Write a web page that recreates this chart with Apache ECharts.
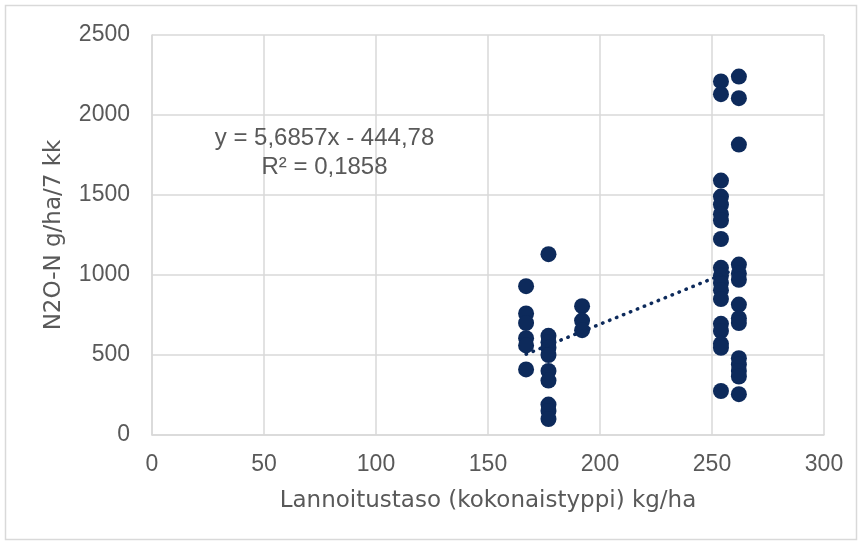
<!DOCTYPE html>
<html><head><meta charset="utf-8">
<script src="https://cdn.jsdelivr.net/npm/echarts@6/dist/echarts.min.js"></script>
<style>html,body{margin:0;padding:0;background:#fff}#c{width:862px;height:544px}</style>
</head><body><div id="c"></div>
<script>
// Data
const xLevels = [167, 177, 192, 254, 262];
const yAt167 = [930, 760, 700, 605, 560, 410];
const yAt177 = [1130, 620, 580, 545, 500, 400, 340, 190, 150, 100];
const yAt192 = [805, 715, 655];
const yAt254 = [2210, 2130, 1590, 1490, 1440, 1380, 1340, 1225, 1045, 995, 950, 905, 850, 695, 650, 570, 545, 275];
const yAt262 = [2240, 2105, 1815, 1065, 1010, 970, 815, 730, 700, 480, 440, 400, 365, 255];
const trendX = [167, 262];
const trendY = [505, 1045];
const xTicks = [0, 50, 100, 150, 200, 250, 300];
const yTicks = [0, 500, 1000, 1500, 2000, 2500];
const eqText = 'y = 5,6857x - 444,78';
const r2Text = 'R² = 0,1858';
const xName = 'Lannoitustaso (kokonaistyppi) kg/ha';
const yName = 'N2O-N g/ha/7 kk';

const groups = [yAt167, yAt177, yAt192, yAt254, yAt262];
const points = [];
groups.forEach((g, i) => g.forEach(v => points.push([xLevels[i], v])));

const FONT = '"Liberation Sans", Arial, sans-serif';
const WFONT = '"DejaVu Sans", sans-serif';
const GRAY = '#595959';
const NAVY = '#0d2a5b';
const chart = echarts.init(document.getElementById('c'));
chart.setOption({
  backgroundColor: '#fff',
  animation: false,
  grid: {left: 152, right: 38, top: 35, bottom: 109, containLabel: false},
  xAxis: {
    type: 'value', min: xTicks[0], max: xTicks[xTicks.length-1], interval: 50,
    name: xName, nameLocation: 'middle', nameGap: 55, nameMoveOverlap: false,
    nameTextStyle: {color: GRAY, fontSize: 23, fontFamily: WFONT},
    axisLine: {show: true, lineStyle: {color: '#d9d9d9', width: 1.5}},
    axisTick: {show: false},
    axisLabel: {color: GRAY, fontSize: 23, fontFamily: FONT, margin: 18, formatter: v => String(v)},
    splitLine: {show: true, lineStyle: {color: '#d9d9d9', width: 1.5}}
  },
  yAxis: {
    type: 'value', min: yTicks[0], max: yTicks[yTicks.length-1], interval: 500,
    name: yName, nameLocation: 'middle', nameGap: 86, nameRotate: 90, nameMoveOverlap: false,
    nameTextStyle: {color: GRAY, fontSize: 23, fontFamily: WFONT},
    axisLine: {show: true, lineStyle: {color: '#d9d9d9', width: 1.5}},
    axisTick: {show: false},
    axisLabel: {color: GRAY, fontSize: 23, fontFamily: FONT, margin: 22, formatter: v => String(v)},
    splitLine: {show: true, lineStyle: {color: '#d9d9d9', width: 1.5}}
  },
  graphic: [
    {type: 'rect', shape: {x: 5.5, y: 5.5, width: 851, height: 534}, style: {fill: 'none', stroke: '#d9d9d9', lineWidth: 1.5}, silent: true, z: -10},
    {type: 'text', x: 324.5, y: 138, z: 100, style: {text: eqText, fill: GRAY, font: '24px ' + FONT, textAlign: 'center', textVerticalAlign: 'middle'}},
    {type: 'text', x: 324.5, y: 167, z: 100, style: {text: r2Text, fill: GRAY, font: '24px ' + FONT, textAlign: 'center', textVerticalAlign: 'middle'}}
  ],
  series: [
    {
      type: 'scatter', data: points, symbol: 'circle', symbolSize: 16,
      itemStyle: {color: NAVY, opacity: 1}, z: 3
    },
    {
      type: 'line', data: trendX.map((x, i) => [x, trendY[i]]), symbol: 'none',
      lineStyle: {color: NAVY, width: 3.5, type: [0.5, 7], cap: 'round'}, z: 4
    }
  ]
});
</script></body></html>
